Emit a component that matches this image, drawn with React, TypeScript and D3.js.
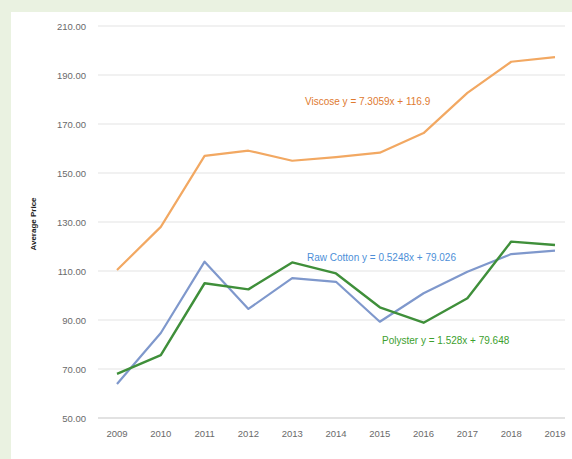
import React from "react";
import * as d3 from "d3";

const years = [2009, 2010, 2011, 2012, 2013, 2014, 2015, 2016, 2017, 2018, 2019];
const viscose = [110.4, 128, 157, 159.1, 155, 156.5, 158.3, 166.3, 182.7, 195.4, 197.3];
const rawCotton = [63.9, 84.7, 113.8, 94.5, 107.1, 105.6, 89.3, 100.9, 109.7, 116.9, 118.3];
const polyester = [68, 75.7, 105, 102.5, 113.5, 109, 95.2, 88.9, 98.9, 122, 120.6];
const yTicks = [50, 70, 90, 110, 130, 150, 170, 190, 210];
const labels = {
  viscose: "Viscose y = 7.3059x + 116.9",
  cotton: "Raw Cotton y = 0.5248x + 79.026",
  polyester: "Polyster y = 1.528x + 79.648",
};

const W = 572;
const H = 459;

export default function App() {
  const x = d3.scalePoint<number>().domain(years).range([117, 555]);
  const y = d3.scaleLinear().domain([50, 210]).range([418, 26]);
  const line = (vals: number[]) =>
    d3
      .line<number>()
      .x((_, i) => x(years[i]) as number)
      .y((v) => y(v))(vals) as string;

  const font = "'Liberation Sans', Arial, sans-serif";
  return (
    <div style={{ position: "absolute", left: 0, top: 0 }}>
      <svg width={W} height={H} style={{ display: "block" }}>
        <rect x={0} y={0} width={W} height={H} fill="#eaf2e1" />
        <rect x={11} y={12} width={W - 11} height={H - 12} fill="#ffffff" />
        {yTicks.map((t) => (
          <g key={t}>
            <line x1={98} x2={565} y1={y(t)} y2={y(t)} stroke={t === 50 ? "#d9d9d9" : "#ececec"} strokeWidth={1.3} />
            <text x={86} y={y(t) + 3.5} textAnchor="end" fontSize={9.5} fill="#6a6a6a" fontFamily={font}>
              {t.toFixed(2)}
            </text>
          </g>
        ))}
        {years.map((yr) => (
          <text key={yr} x={x(yr) as number} y={437} textAnchor="middle" fontSize={9.5} fill="#6a6a6a" fontFamily={font}>
            {yr}
          </text>
        ))}
        <text
          transform={`translate(36,224) rotate(-90)`}
          textAnchor="middle"
          fontSize={8}
          fontWeight="bold"
          fill="#222"
          fontFamily={font}
        >
          Average Price
        </text>
        <path d={line(viscose)} fill="none" stroke="#f2a862" strokeWidth={2.2} strokeLinejoin="round" />
        <path d={line(rawCotton)} fill="none" stroke="#7f98cc" strokeWidth={2.2} strokeLinejoin="round" />
        <path d={line(polyester)} fill="none" stroke="#3f8f3a" strokeWidth={2.4} strokeLinejoin="round" />
        <text x={305} y={105} fontSize={10} fill="#e07a30" fontFamily={font}>
          {labels.viscose}
        </text>
        <text x={307} y={261} fontSize={10} fill="#4d8fd8" fontFamily={font}>
          {labels.cotton}
        </text>
        <text x={382} y={344} fontSize={10} fill="#3ca02e" fontFamily={font}>
          {labels.polyester}
        </text>
      </svg>
    </div>
  );
}
